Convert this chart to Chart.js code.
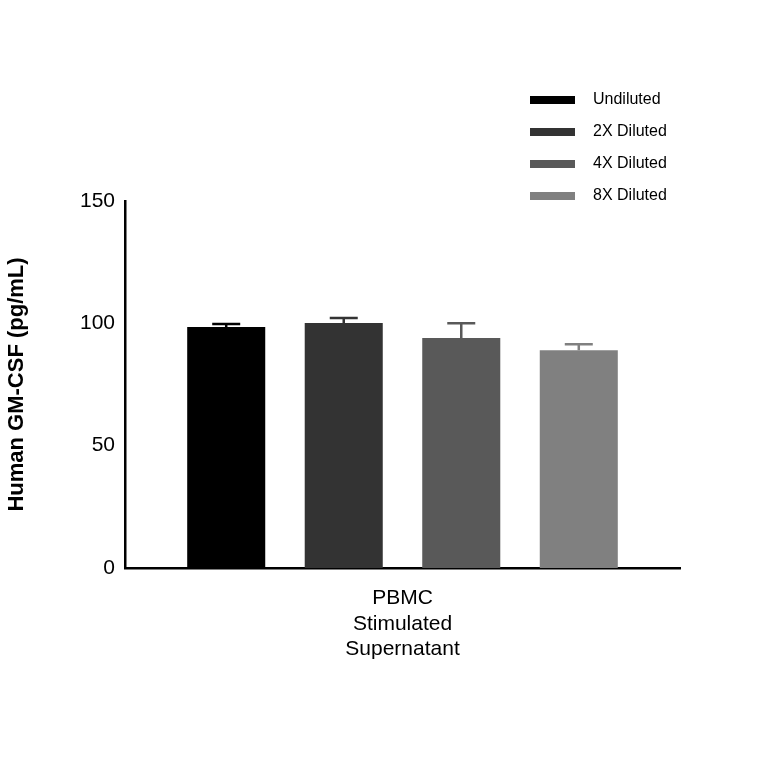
<!DOCTYPE html><html><head><style>html,body{margin:0;background:#fff}#w{width:764px;height:764px}</style>
<script src="https://cdn.jsdelivr.net/npm/chart.js@4"></script></head><body><div id="w"><canvas id="c"></canvas></div>
<script>
const categories=[["PBMC","Stimulated","Supernatant"]];
const seriesNames=["Undiluted","2X Diluted","4X Diluted","8X Diluted"];
const means=[98.5,100.1,94,89];
const errors=[1.2,2.1,6,2.5];
const colors=["#000000","#333333","#595959","#808080"];
const yTicks=[0,50,100,150];
const F="Liberation Sans, Arial, sans-serif";
const errPlugin={id:'err',afterDatasetsDraw(ch){const c=ch.ctx;const y=ch.scales.y;
ch.data.datasets.forEach((d,i)=>{const b=ch.getDatasetMeta(i).data[0];const t=y.getPixelForValue(means[i]+errors[i]);
c.save();c.strokeStyle=colors[i];c.lineWidth=2.5;c.beginPath();c.moveTo(b.x,b.y);c.lineTo(b.x,t);c.moveTo(b.x-14,t);c.lineTo(b.x+14,t);c.stroke();c.restore();});
const c2=ch.ctx;c2.save();c2.font="16px "+F;c2.textBaseline="middle";
seriesNames.forEach((n,i)=>{const yy=100+i*32;c2.fillStyle=colors[i];c2.fillRect(530,yy-4,45,8);c2.fillStyle="#000";c2.fillText(n,593,yy);});c2.restore();}};
new Chart(document.getElementById('c'),{type:'bar',
data:{labels:categories,datasets:seriesNames.map((n,i)=>({label:n,data:[means[i]],backgroundColor:colors[i],categoryPercentage:0.847,barPercentage:0.664}))},
options:{responsive:true,maintainAspectRatio:false,animation:false,
layout:{padding:{top:201,right:84,left:0,bottom:0}},
plugins:{legend:{display:false},tooltip:{enabled:false}},
scales:{y:{min:0,max:150,afterBuildTicks(a){a.ticks=yTicks.map(v=>({value:v}));},
afterFit(a){a.width=125;},
grid:{display:false,drawTicks:true,tickLength:8,tickWidth:2.5,tickColor:'#000'},border:{color:'#000',width:2.5},
ticks:{color:'#000',font:{family:F,size:21},padding:2},
title:{display:true,text:"Human GM-CSF (pg/mL)",color:'#000',font:{family:F,size:22,weight:'bold'},padding:{bottom:6}}},
x:{afterFit(a){a.height=196;},grid:{display:false,drawTicks:false},border:{color:'#000',width:2.5},
ticks:{color:'#000',font:{family:F,size:21},padding:18}}}},
plugins:[errPlugin]});
</script></body></html>
